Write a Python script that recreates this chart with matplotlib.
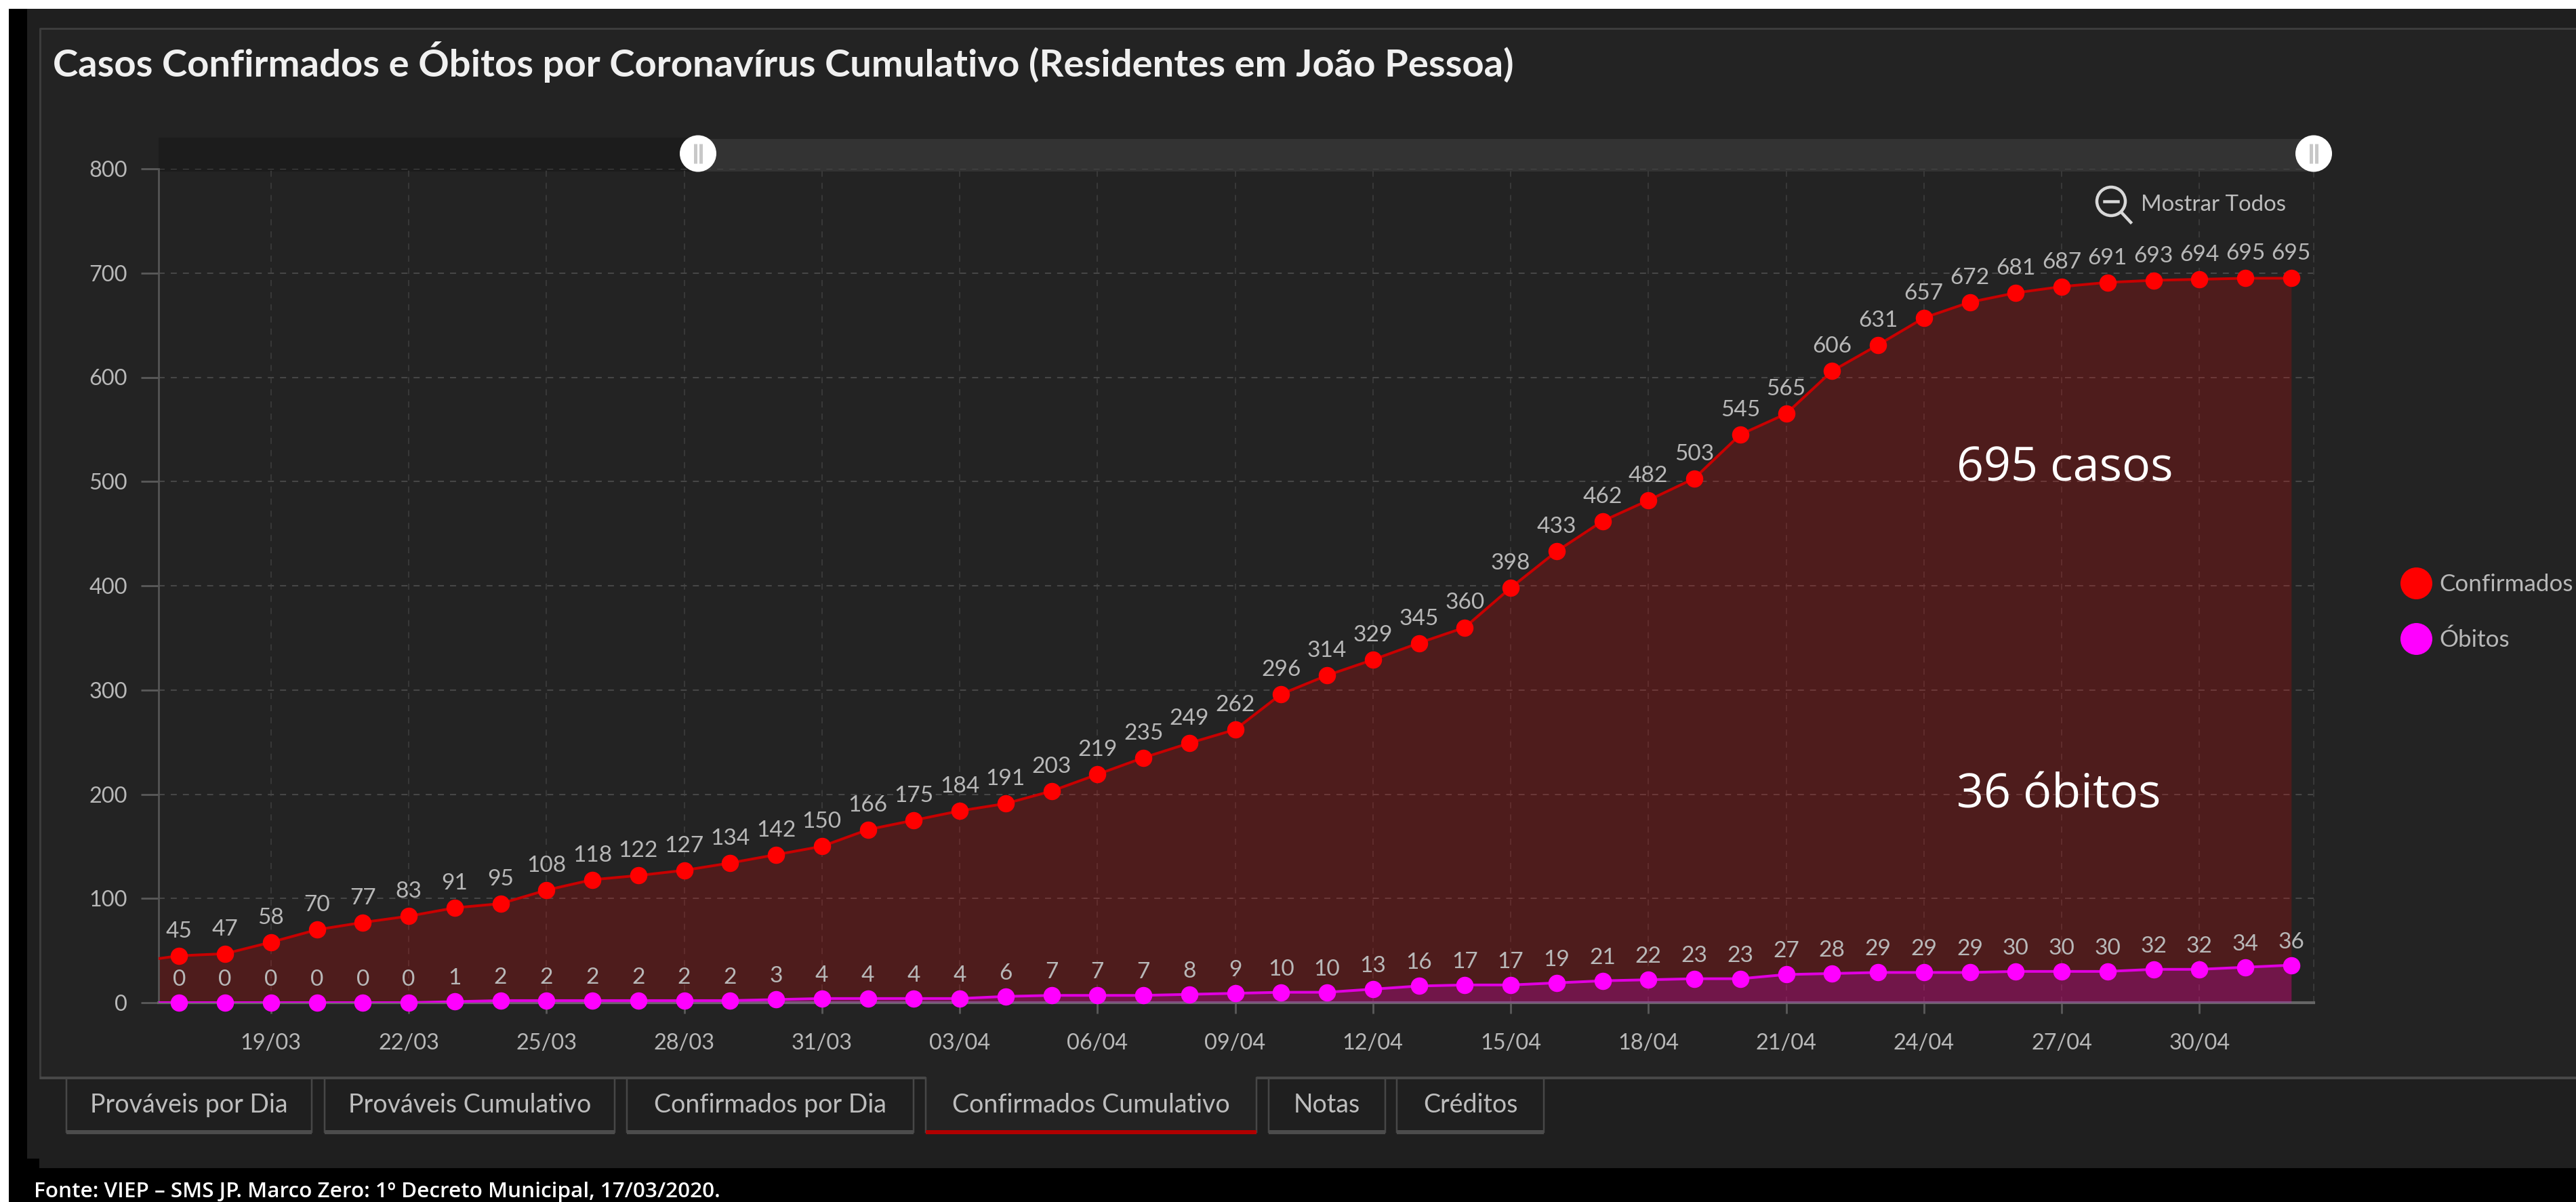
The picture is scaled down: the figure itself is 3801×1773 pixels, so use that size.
import matplotlib
matplotlib.use("Agg")
import matplotlib.pyplot as plt
import matplotlib.dates as mdates
from matplotlib.lines import Line2D
from matplotlib.patches import Rectangle, Circle
import pandas as pd

W, H = 3801, 1773

# ---- data ----
first_day = "2020-03-17"
series_names = ["Confirmados", "Óbitos"]
confirmados = [45, 47, 58, 70, 77, 83, 91, 95, 108, 118, 122, 127, 134, 142, 150, 166,
               175, 184, 191, 203, 219, 235, 249, 262, 296, 314, 329, 345, 360, 398,
               433, 462, 482, 503, 545, 565, 606, 631, 657, 672, 681, 687, 691, 693,
               694, 695, 695]
obitos = [0, 0, 0, 0, 0, 0, 1, 2, 2, 2, 2, 2, 2, 3, 4, 4, 4, 4, 6, 7, 7, 7, 8, 9, 10, 10,
          13, 16, 17, 17, 19, 21, 22, 23, 23, 27, 28, 29, 29, 29, 30, 30, 30, 32, 32, 34, 36]
# the day before the visible window (only its clipped lead-in segment shows)
confirmados_prev = 39
obitos_prev = 0
y_ticks = [0, 100, 200, 300, 400, 500, 600, 700, 800]
tab_names = ["Prováveis por Dia", "Prováveis Cumulativo", "Confirmados por Dia",
             "Confirmados Cumulativo", "Notas", "Créditos"]

# ---- styles ----
FONT = "Lato"
PANEL = "#1f1f1f"
INNER = "#232323"
FRAME = "#474747"
TEXT = "#b8b8b8"
RED, RED_LINE = "#ff0000", "#c80000"
MAG, MAG_LINE = "#ff00ff", "#e000e0"

fig = plt.figure(figsize=(W / 100, H / 100), dpi=100, facecolor="white")
px = 72 / 100


def overlay(z):
    a = fig.add_axes([0, 0, 1, 1], zorder=z)
    a.set_xlim(0, W)
    a.set_ylim(H, 0)
    a.axis("off")
    a.patch.set_alpha(0)
    return a


bg = overlay(0)
fg = overlay(3)


def rect(a, x0, y0, x1, y1, color, z=1):
    a.add_patch(Rectangle((x0, y0), x1 - x0, y1 - y0, fc=color, ec="none", zorder=z))


# page / panel furniture
rect(bg, 13, 13, W, H, "black")
rect(bg, 40, 13, W, 1709, PANEL, 2)
rect(bg, 58, 1709, W, 1723, PANEL, 2)
rect(bg, 59, 42, W, 1590, INNER, 3)
bg.plot([59, 59, W], [1590, 42, 42], color="#3c3c3c", lw=3 * px, zorder=4)

# slider
rect(bg, 234, 203, 1030, 253, "#1c1c1c", 5)
rect(bg, 1030, 205, 3414, 253, "#333333", 5)

# tabs
tabs = [(98, 460), (479, 907), (925, 1348), (1366, 1854), (1872, 2044), (2061, 2278)]
active = 3
bg.plot([59, 1366], [1590, 1590], color=FRAME, lw=4 * px, zorder=4, solid_capstyle="butt")
bg.plot([1854, W], [1590, 1590], color=FRAME, lw=4 * px, zorder=4, solid_capstyle="butt")
for i, ((x0, x1), name) in enumerate(zip(tabs, tab_names)):
    rect(bg, x0, 1590 if i == active else 1592, x1, 1672, INNER if i == active else PANEL, 4)
    bg.plot([x0, x0], [1590, 1670], color=FRAME, lw=2.5 * px, zorder=5)
    bg.plot([x1, x1], [1590, 1670], color=FRAME, lw=2.5 * px, zorder=5)
    bg.plot([x0, x1], [1670, 1670], color="#b00000" if i == active else "#4c4c4c",
            lw=6 * px, zorder=6, solid_capstyle="butt")
    bg.text((x0 + x1) / 2, 1630, name, color="#bdbdbd", fontsize=37.5 * px, family=FONT,
            ha="center", va="center", zorder=7)

# chart
L, R, T, B = 234, 3414, 249, 1479
ax = fig.add_axes([L / W, 1 - B / H, (R - L) / W, (B - T) / H], zorder=2)
ax.patch.set_alpha(0)

dates = pd.date_range(first_day, periods=len(confirmados))
lead = dates[0] - pd.Timedelta(days=1)
xs = mdates.date2num(dates)
lead_x = mdates.date2num(lead)
line_x = [lead_x] + list(xs)

ax.fill_between(line_x, [confirmados_prev] + confirmados, 0, color=RED, alpha=0.2, lw=0, zorder=2)
ax.fill_between(line_x, [obitos_prev] + obitos, 0, color=MAG, alpha=0.2, lw=0, zorder=3)
ax.plot(line_x, [confirmados_prev] + confirmados, color=RED_LINE, lw=4 * px, zorder=4)
ax.plot(line_x, [obitos_prev] + obitos, color=MAG_LINE, lw=4 * px, zorder=4)
ax.plot(xs, confirmados, "o", color=RED, ms=25.5 * px, mew=0, zorder=5, clip_on=False)
ax.plot(xs, obitos, "o", color=MAG, ms=25.5 * px, mew=0, zorder=5, clip_on=False)

for x, v in zip(xs, confirmados):
    ax.annotate(str(v), (x, v), xytext=(0, 36 * px), textcoords="offset points", ha="center",
                va="center", color=TEXT, fontsize=33.5 * px, family=FONT, zorder=6)
for x, v in zip(xs, obitos):
    ax.annotate(str(v), (x, v), xytext=(0, 34 * px), textcoords="offset points", ha="center",
                va="center", color=TEXT, fontsize=33.5 * px, family=FONT, zorder=6)

ax.set_xlim(xs[0] - 0.448, xs[-1] + 0.49)
ax.set_ylim(0, 800)
ax.set_yticks(y_ticks)
ticks = xs[2:-2:3]
ax.set_xticks(ticks)
ax.set_xticklabels([mdates.num2date(t).strftime("%d/%m") for t in ticks])
ax.tick_params(axis="y", length=19, width=2, color="#5a5a5a", labelcolor=TEXT, pad=14,
               labelsize=32.5 * px)
ax.tick_params(axis="x", length=16 * px, width=2, color="#5a5a5a", labelcolor=TEXT, pad=29 * px,
               labelsize=32.5 * px)
for lab in ax.get_xticklabels() + ax.get_yticklabels():
    lab.set_family(FONT)
ax.set_axisbelow(True)
ax.grid(axis="y", color="#464646", lw=1.5, ls=(0, (4.3, 4.3)))
ax.grid(axis="x", color="#383838", lw=1.5, ls=(0, (4.3, 4.3)))
ax.spines["top"].set_visible(False)
ax.spines["right"].set_color("#383838")
ax.spines["right"].set_linestyle((0, (4.3, 4.3)))
ax.spines["right"].set_linewidth(1.5)
ax.spines["left"].set_color("#555555")
ax.spines["left"].set_linewidth(2)
ax.spines["bottom"].set_color("#666666")
ax.spines["bottom"].set_linewidth(3)

# legend
handles = [Line2D([], [], ls="", marker="o", ms=47 * px, mew=0, color=c) for c in (RED, MAG)]
leg = fig.legend(handles, series_names, loc="center left",
                 bbox_to_anchor=(3498 / W, 1 - 903 / H), frameon=False, labelspacing=1.42,
                 handletextpad=0.0, prop={"family": FONT, "size": 35 * px})
for t in leg.get_texts():
    t.set_color(TEXT)

# slider handles
for cx in (1030, 3414):
    fg.add_patch(Circle((cx, 226.5), 27, fc="white", ec="none", zorder=5))
    for dx in (-4, 4):
        fg.plot([cx + dx, cx + dx], [212, 241], color="#c8c8c8", lw=5 * px, zorder=6,
                solid_capstyle="butt")

# "Mostrar Todos"
fg.add_patch(Circle((3115, 297), 21, fc="none", ec="#d8d8d8", lw=4.5 * px, zorder=5))
fg.plot([3105, 3125], [297, 297], color="#d8d8d8", lw=4.5 * px, zorder=5)
fg.plot([3130, 3144], [313, 328], color="#d8d8d8", lw=4.5 * px, zorder=5)
fg.text(3159, 302, "Mostrar Todos", color="#bdbdbd", fontsize=33 * px, family=FONT, va="center")

# titles and annotations
fg.text(78, 92, "Casos Confirmados e Óbitos por Coronavírus Cumulativo (Residentes em João Pessoa)",
        color="#f0f0f0", fontsize=56.3 * px, family=FONT, weight="bold", va="center")
fg.text(2887, 691, "695 casos", color="white", fontsize=70 * px, family="Open Sans", va="center")
fg.text(2887, 1173, "36 óbitos", color="white", fontsize=70 * px, family="Open Sans", va="center")
fg.text(50, 1758, "Fonte: VIEP – SMS JP. Marco Zero: 1º Decreto Municipal, 17/03/2020.",
        color="white", fontsize=31.5 * px, family="Open Sans", weight="semibold", va="center")

fig.savefig("out.png", dpi=100, facecolor="white")
